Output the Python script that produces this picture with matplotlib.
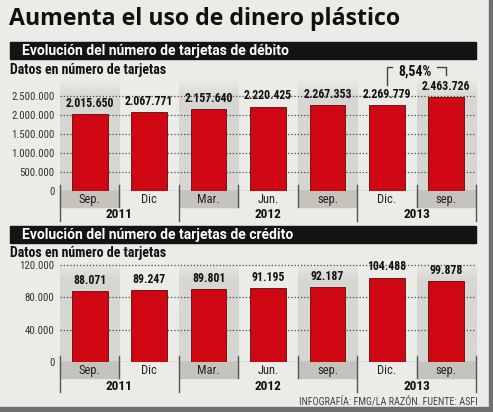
import numpy as np
import matplotlib
matplotlib.use('Agg')
import matplotlib.pyplot as plt
import matplotlib.font_manager as fm
from matplotlib import transforms
from matplotlib.patches import Rectangle
from matplotlib.colors import to_rgb

# datos
categorias = ['Sep.', 'Dic', 'Mar.', 'Jun.', 'sep.', 'Dic.', 'sep.']
anios = ['2011', '2012', '2013']
grupos = [(0, 1), (2, 4), (5, 6)]
debito = [2015650, 2067771, 2157640, 2220425, 2267353, 2269779, 2463726]
credito = [88071, 89247, 89801, 91195, 92187, 104488, 99878]
ticks_debito = [0, 500000, 1000000, 1500000, 2000000, 2500000]
ticks_credito = [0, 40000, 80000, 120000]
variacion = '8,54%'

# fuente condensada si existe
nombres = {f.name for f in fm.fontManager.ttflist}
fuente = next((n for n in ['Roboto Condensed', 'Liberation Sans Narrow',
                           'Open Sans Condensed', 'Liberation Sans']
               if n in nombres), 'DejaVu Sans')
plt.rcParams['font.family'] = [fuente, 'DejaVu Sans']
TITULO = ['Open Sans', 'DejaVu Sans']
CABECERA = ['Roboto', 'DejaVu Sans']

W, H = 493, 412
FONDO = '#ebebe7'
ROJO = '#cf0712'
GRIS_COL = '#d6d6d2'
GRIS_CAJA = '#c4c4bc'


def fx(px):
    return px / W


def fy(py):
    return 1 - py / H


def miles(v):
    return f'{v:,}'.replace(',', '.')


fig = plt.figure(figsize=(W / 100, H / 100), dpi=100, facecolor=FONDO)

# marco
fig.patches.append(Rectangle((fx(489), 0), fx(4), 1, transform=fig.transFigure,
                             color='#707070', zorder=10))
fig.patches.append(Rectangle((0, 0), 1, (H - 407) / H, transform=fig.transFigure,
                             color='#707070', zorder=10))

fig.text(fx(9), fy(19), 'Aumenta el uso de dinero plástico', fontsize=16.7,
         fontweight='bold', va='center', ha='left', color='#111111', family=TITULO)


def cabecera(y0, y1, texto):
    fig.patches.append(Rectangle((fx(10), fy(y1)), fx(476) - fx(10), (y1 - y0) / H,
                                 transform=fig.transFigure, color='#141414'))
    fig.text(fx(22), fy((y0 + y1) / 2 + 0.5), texto, color='white', fontsize=10,
             fontweight='bold', va='center', ha='left', family=CABECERA)


def grafico(valores, yticks, base, top, px_unidad, val_unidad, datos_y):
    ax = fig.add_axes([fx(60), fy(base), fx(476) - fx(60), (base - top) / H])
    ymax = (base - top) / px_unidad * val_unidad
    ax.set_facecolor('none')
    x = np.arange(len(valores))

    # columnas sombreadas con degradado arriba
    grad = np.ones((100, 1, 4))
    grad[:, 0, :3] = to_rgb(GRIS_COL)
    grad[:, 0, 3] = np.clip(np.linspace(0, 1, 100) / 0.18, 0, 1)
    for i in range(0, len(valores), 2):
        ax.imshow(grad, extent=[i - 0.5, i + 0.5, 0, ymax], aspect='auto',
                  origin='upper', zorder=0)

    ax.bar(x, valores, width=0.6, color=ROJO, edgecolor='#5a0a0a',
           linewidth=0.6, zorder=3)
    for xi, v in zip(x, valores):
        ax.annotate(miles(v), (xi, v), xytext=(0, 3), textcoords='offset points',
                    ha='center', va='bottom', fontsize=8.5, fontweight='bold',
                    color='#111111', zorder=4)

    ax.set_xlim(-0.5, len(valores) - 0.5)
    ax.set_ylim(0, ymax)
    ax.set_yticks(yticks)
    ax.set_yticklabels([miles(t) for t in yticks])
    ax.tick_params(axis='y', length=0, pad=4, labelsize=7.8, labelcolor='#333333')
    ax.set_xticks([])
    for s in ax.spines.values():
        s.set_visible(False)
    ax.set_axisbelow(True)
    ax.yaxis.grid(True, linestyle=(0, (1, 1.6)), color='#4a4a4a', linewidth=0.9)
    ax.axhline(0, color='#888888', linewidth=0.8, zorder=2)

    # cajas de categorias bajo el eje
    tr = transforms.blended_transform_factory(ax.transData, fig.transFigure)
    for i, c in enumerate(categorias):
        if i % 2 == 0:
            ax.add_patch(Rectangle((i - 0.5, fy(base + 16)), 1, 16 / H, transform=tr,
                                   color=GRIS_CAJA, clip_on=False, zorder=1))
        ax.text(i, fy(base + 8.5), c, transform=tr, ha='center', va='center',
                fontsize=9, color='#222222')
    largos = [-0.5] + [g[1] + 0.5 for g in grupos]
    for b in np.arange(-0.5, len(valores)):
        y_fin = base + 30 if b in largos else base + 16
        ax.plot([b, b], [fy(base - 6), fy(y_fin)], transform=tr, color='#555555',
                linewidth=1, clip_on=False, zorder=2)
    for (a, b), anio in zip(grupos, anios):
        ax.text((a + b) / 2, fy(base + 24), anio, transform=tr, ha='center',
                va='center', fontsize=9.5, fontweight='bold', color='#111111')

    fig.text(fx(10), fy(datos_y), 'Datos en número de tarjetas', fontsize=10,
             fontweight='bold', va='center', ha='left', color='#111111')
    return ax, tr


cabecera(42, 59, 'Evolución del número de tarjetas de débito')
ax1, tr1 = grafico(debito, ticks_debito, 191, 78, 95, 2500000, 70)

# corchete de variacion
c = '#444444'
ax1.plot([5, 5, 5.08], [fy(85), fy(67), fy(67)], transform=tr1, color=c,
         linewidth=1, clip_on=False)
ax1.plot([5.85, 6, 6], [fy(67), fy(67), fy(75)], transform=tr1, color=c,
         linewidth=1, clip_on=False)
ax1.text(5.47, fy(72), variacion, transform=tr1, ha='center', va='center',
         fontsize=10, fontweight='bold', color='#111111')

cabecera(226, 243, 'Evolución del número de tarjetas de crédito')
ax2, tr2 = grafico(credito, ticks_credito, 362, 261, 97, 120000, 253)

fig.text(fx(478), fy(401), 'INFOGRAFÍA: FMG/LA RAZÓN. FUENTE: ASFI', fontsize=7.3,
         ha='right', va='center', color='#444444')

fig.savefig('out.png', dpi=100, facecolor=FONDO)
